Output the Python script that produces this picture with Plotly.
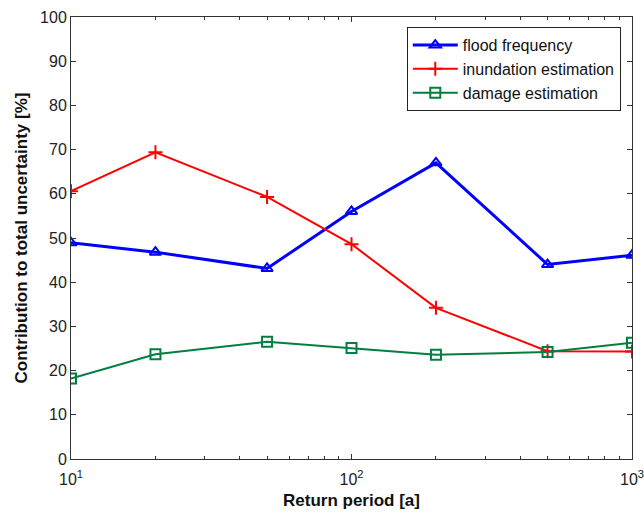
import plotly.graph_objects as go

return_period = [10, 20, 50, 100, 200, 500, 1000]
flood_frequency = [48.9, 46.8, 43.1, 56.0, 67.0, 44.0, 46.1]
inundation_estimation = [60.6, 69.4, 59.3, 48.6, 34.2, 24.4, 24.3]
damage_estimation = [18.2, 23.7, 26.5, 25.1, 23.6, 24.2, 26.3]

x_tickvals = [10, 100, 1000]
x_ticktext = ["10<sup>1</sup>", "10<sup>2</sup>", "10<sup>3</sup>"]
x_minor = [20, 30, 40, 50, 60, 70, 80, 90, 200, 300, 400, 500, 600, 700, 800, 900]
y_tickvals = list(range(0, 101, 10))

FONT = "Liberation Sans, Arial, sans-serif"

fig = go.Figure()
fig.add_trace(go.Scatter(
    x=return_period, y=flood_frequency, name="flood frequency",
    mode="lines+markers",
    line=dict(color="#0000ff", width=3),
    marker=dict(symbol="triangle-up-open", size=10, color="#0000ff", line=dict(width=2)),
))
fig.add_trace(go.Scatter(
    x=return_period, y=inundation_estimation, name="inundation estimation",
    mode="lines+markers",
    line=dict(color="#ff0000", width=2),
    marker=dict(symbol="cross-thin-open", size=10, color="#ff0000", line=dict(width=2, color="#ff0000")),
))
fig.add_trace(go.Scatter(
    x=return_period, y=damage_estimation, name="damage estimation",
    mode="lines+markers",
    line=dict(color="#007f3f", width=2),
    marker=dict(symbol="square-open", size=10, color="#007f3f", line=dict(width=2)),
))

axis_common = dict(
    showline=True, linecolor="#333333", linewidth=1, mirror="ticks",
    ticks="inside", ticklen=5, tickcolor="#333333",
    showgrid=False, zeroline=False, automargin=False,
    ticklabeloverflow="allow",
    tickfont=dict(family=FONT, size=16, color="#222222"),
)

fig.update_xaxes(
    type="log", range=[1, 3],
    tickvals=x_tickvals, ticktext=x_ticktext,
    ticklabelstandoff=6,
    minor=dict(ticks="inside", ticklen=3, tickcolor="#333333", tickvals=x_minor, showgrid=False),
    title=dict(text="<b>Return period [a]</b>", font=dict(family=FONT, size=17, color="#111111"), standoff=6),
    **axis_common,
)
fig.update_yaxes(
    range=[0, 100], tickvals=y_tickvals,
    title=dict(text="<b>Contribution to total uncertainty [%]</b>", font=dict(family=FONT, size=17, color="#111111"), standoff=8),
    **axis_common,
)

fig.update_layout(
    width=644, height=515,
    margin=dict(l=71, r=12, t=17, b=56, autoexpand=False),
    paper_bgcolor="white", plot_bgcolor="white",
    legend=dict(
        x=0.98, y=0.977, xanchor="right", yanchor="top",
        bgcolor="white", bordercolor="#222222", borderwidth=1,
        font=dict(family=FONT, size=16, color="#111111"),
        tracegroupgap=0, itemwidth=45,
    ),
)

fig.write_html("out.html", config={"displayModeBar": False},
               post_script="document.body.style.margin='0';")
